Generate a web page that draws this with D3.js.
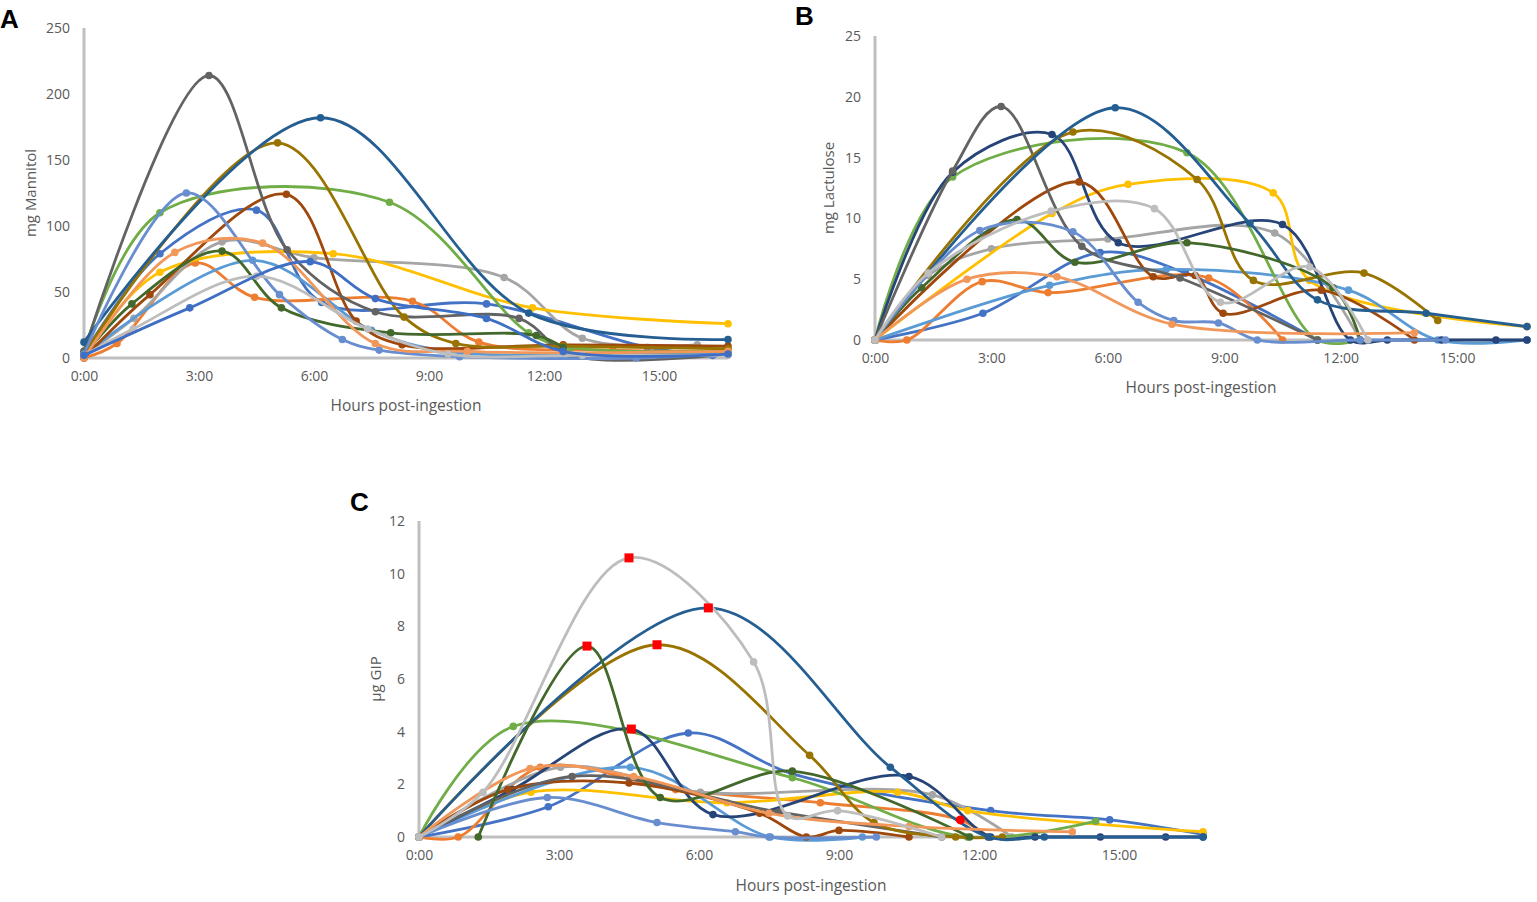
<!DOCTYPE html>
<html>
<head>
<meta charset="utf-8">
<script src="https://cdn.jsdelivr.net/npm/d3@7"></script>
<style>
  html, body { margin: 0; padding: 0; background: #fff; }
  svg { display: block; }
</style>
</head>
<body>
<svg id="chart" width="1537" height="902"></svg>
<script>
// hours post-ingestion, tick every 3 h, axis ends at 0.7 day
const xTicks = [0, 3, 6, 9, 12, 15];
const xMax = 16.8;
const mannitolTicks = [0, 50, 100, 150, 200, 250];
const lactuloseTicks = [0, 5, 10, 15, 20, 25];
const gipTicks = [0, 2, 4, 6, 8, 10, 12];

const subjects = ["S1","S2","S3","S4","S5","S6","S7","S8","S9","S10","S11","S12","S13","S14","S15","S16"];

// panel A: mg mannitol, [hour, value]
const mannitol = {
  S1:  [[0,3],[1.98,79],[4.5,112],[6.2,42],[10.5,41],[14.7,8],[16.4,2]],
  S2:  [[0,0],[0.86,11],[2.9,72],[4.45,46],[8.57,43],[10.3,12],[13.8,6],[16.8,5]],
  S3:  [[0,2],[1.3,30],[3.6,88],[6.0,76],[10.96,61],[13.0,15],[16.0,10]],
  S4:  [[0,2],[1.98,65],[6.5,79],[11.7,38],[16.8,26]],
  S5:  [[0,2],[4.4,74],[7.5,21],[9.5,5],[14.5,3],[16.4,3]],
  S6:  [[0,5],[1.98,110],[7.97,118],[11.6,19],[12.7,8],[16.8,5]],
  S8:  [[0,0],[1.72,48],[5.28,124],[7.1,28],[8.3,10],[12.5,10],[16.8,9]],
  S9:  [[0,5],[3.26,214],[5.3,82],[7.6,35],[11.35,30],[12.7,2],[16.8,3]],
  S10: [[0,3],[5.05,163],[8.35,31],[9.7,11],[12.5,9],[16.8,7]],
  S11: [[0,12],[6.17,182],[11.6,34],[16.8,14]],
  S12: [[0,2],[1.25,41],[3.6,81],[5.15,38],[8.0,19],[11.8,17],[12.5,8]],
  S13: [[0,3],[2.67,125],[5.1,48],[6.74,14],[7.7,6],[9.8,1],[14.4,0],[16.4,3]],
  S14: [[0,0],[2.37,80],[4.66,87],[7.6,11],[10,5],[16.8,5]],
  S15: [[0,2],[1.28,22],[4.5,62],[7.4,22],[9.5,3],[13,2],[16.8,2]],
  S16: [[0,2],[2.76,38],[5.9,73],[7.6,45],[10.5,30],[12.5,5],[16.8,3]]
};

// panel B: mg lactulose
const lactulose = {
  S1:  [[0,0],[2.78,2.2],[5.8,7.2],[8.0,5.5],[11.4,0]],
  S2:  [[0,0],[0.82,0],[2.76,4.8],[4.46,3.9],[8.6,5.1],[10.5,0]],
  S3:  [[0,0],[1.37,5.3],[3.0,7.5],[6.0,8.3],[10.3,8.8],[12.5,0]],
  S4:  [[0,0],[4.56,10.4],[6.52,12.8],[10.26,12.1],[11.2,4.9],[16.8,1.1]],
  S5:  [[0,0],[4.5,4.5],[7.5,5.8],[12.2,4.1],[14.5,0],[16.8,0]],
  S6:  [[0,0],[2.0,13.4],[8.04,15.4],[11.4,0],[12.5,0]],
  S7:  [[0,0],[2.0,13.8],[4.56,16.9],[6.27,8.0],[10.5,9.5],[12.25,0],[13.2,0],[14.6,0],[16.0,0],[16.8,0]],
  S8:  [[0,0],[5.26,13.0],[7.17,5.2],[8.25,5.3],[8.97,2.2],[11.5,4.1],[13.9,0]],
  S9:  [[0,0],[2.0,13.9],[3.25,19.2],[5.33,7.7],[7.86,5.1],[11.4,0]],
  S10: [[0,0],[5.1,17.1],[8.3,13.2],[9.75,4.9],[12.6,5.5],[14.5,1.6]],
  S11: [[0,0],[6.19,19.1],[9.66,9.6],[11.4,3.3],[14.2,2.2],[16.8,1.1]],
  S12: [[0,0],[1.2,4.3],[3.66,9.9],[5.15,6.4],[8.04,8.0],[11.8,4.3],[12.5,0]],
  S13: [[0,0],[2.7,9.0],[5.1,8.9],[6.78,3.1],[7.7,1.6],[8.85,1.4],[9.85,0],[12.5,0],[14.7,0]],
  S14: [[0,0],[2.37,5.0],[4.69,5.2],[7.65,1.3],[13.9,0.6]],
  S15: [[0,0],[1.37,5.5],[4.54,10.6],[7.2,10.8],[8.9,3.1],[11.2,6],[12.7,0]]
};

// panel C: µg GIP
const gip = {
  S1:  [[0,0],[2.77,1.15],[5.77,3.95],[8.0,2.4],[12.25,1.0],[14.8,0.65],[16.8,0.1]],
  S2:  [[0,0],[0.84,0],[2.6,2.65],[5.5,1.8],[8.6,1.3],[11.6,0.65],[12.2,0]],
  S3:  [[0,0],[3.03,2.65],[6.03,1.7],[11.0,1.6],[12.7,0]],
  S4:  [[0,0],[2.4,1.7],[6.6,1.3],[10.26,1.7],[11.76,1.0],[16.8,0.2]],
  S5:  [[0,0],[4.53,2.65],[7.53,0],[9.5,0]],
  S6:  [[0,0],[2.02,4.2],[8.0,2.25],[11.75,0],[14.5,0.6]],
  S7:  [[0,0],[2.0,1.8],[4.55,4.1],[6.3,0.85],[10.5,2.3],[12.25,0],[13.2,0],[14.6,0],[16.0,0],[16.8,0]],
  S8:  [[0,0],[1.9,1.8],[4.5,2.05],[7.3,0.9],[8.3,0],[9.0,0.25],[10.5,0]],
  S9:  [[0,0],[3.28,2.3],[7.7,0.95],[11.2,0]],
  S10: [[0,0],[5.1,7.3],[8.37,3.1],[9.75,0.55],[11.5,0],[12.5,0]],
  S11: [[0,0],[6.2,8.7],[10.1,2.65],[12.2,0],[13.4,0],[16.8,0]],
  S12: [[1.27,0],[3.6,7.25],[5.17,1.5],[8.0,2.5],[11.8,0]],
  S13: [[0,0],[2.75,1.5],[5.1,0.55],[6.78,0.2],[7.5,0],[9.8,0]],
  S14: [[0,0],[2.38,2.6],[4.6,2.3],[7.5,0.9],[10.5,0.4],[14.0,0.2]],
  S15: [[0,0],[1.37,1.7],[4.5,10.6],[7.17,6.65],[7.9,0.8],[8.97,1.0],[11.2,0]]
};
// highlighted points in panel C: [subject, point index, shape]
const gipHighlights = [["S15",2,"square"],["S11",1,"square"],["S10",1,"square"],
                       ["S12",1,"square"],["S7",2,"square"],["S2",5,"circle"]];

// Office palette, one colour per subject
const subjectColors = {
  S1:"#4472C4", S2:"#ED7D31", S3:"#A5A5A5", S4:"#FFC000", S5:"#5B9BD5",
  S6:"#70AD47", S7:"#264478", S8:"#9E480E", S9:"#636363", S10:"#997300",
  S11:"#255E91", S12:"#43682B", S13:"#698ED0", S14:"#F1975A", S15:"#BDBDBD",
  S16:"#3F6FC4"
};

const panels = [
  { letter:"A", data:mannitol, yTicks:mannitolTicks, yTitle:"mg Mannitol",
    x0:84, x1:728, y0:358, y1:28, letterX:0, letterY:28, yTitleX:36, xTitleY:411,
    highlights:[] },
  { letter:"B", data:lactulose, yTicks:lactuloseTicks, yTitle:"mg Lactulose",
    x0:875, x1:1527, y0:340, y1:36, letterX:795, letterY:25, yTitleX:834, xTitleY:393,
    highlights:[] },
  { letter:"C", data:gip, yTicks:gipTicks, yTitle:"µg GIP",
    x0:419, x1:1203, y0:837, y1:521, letterX:350, letterY:511, yTitleX:381, xTitleY:891,
    highlights:gipHighlights }
];

const svg = d3.select("#chart");
const font = "'Open Sans', 'Liberation Sans', sans-serif";
const axisColor = "#BFBFBF";
const textColor = "#595959";

function fmtHour(h) { return h + ":00"; }

panels.forEach(p => {
  const g = svg.append("g");
  const x = d3.scaleLinear().domain([0, xMax]).range([p.x0, p.x1]);
  const yMax = p.yTicks[p.yTicks.length - 1];
  const y = d3.scaleLinear().domain([0, yMax]).range([p.y0, p.y1]);

  // panel letter
  g.append("text")
    .attr("x", p.letterX).attr("y", p.letterY)
    .attr("font-family", "'Liberation Sans', Arial, sans-serif")
    .attr("font-weight", "bold").attr("font-size", 26)
    .attr("fill", "#000").text(p.letter);

  // y tick labels
  const yAxis = d3.axisLeft(y).tickValues(p.yTicks).tickSize(0).tickPadding(14);
  const ya = g.append("g").attr("transform", `translate(${p.x0},0)`).call(yAxis);
  ya.select(".domain").remove();
  ya.selectAll("text").attr("font-family", font).attr("font-size", 14).attr("fill", textColor);

  // x tick labels
  const xAxis = d3.axisBottom(x).tickValues(xTicks).tickFormat(fmtHour).tickSize(0).tickPadding(13);
  const xa = g.append("g").attr("transform", `translate(0,${p.y0})`).call(xAxis);
  xa.select(".domain").remove();
  xa.selectAll("text").attr("font-family", font).attr("font-size", 14).attr("fill", textColor);

  // axis lines
  g.append("line").attr("x1", p.x0).attr("x2", p.x0).attr("y1", p.y1).attr("y2", p.y0)
    .attr("stroke", axisColor).attr("stroke-width", 3);
  g.append("line").attr("x1", p.x0 - 1).attr("x2", p.x1).attr("y1", p.y0).attr("y2", p.y0)
    .attr("stroke", axisColor).attr("stroke-width", 3);

  // axis titles
  g.append("text")
    .attr("x", (p.x0 + p.x1) / 2).attr("y", p.xTitleY)
    .attr("text-anchor", "middle").attr("font-family", font).attr("font-size", 15.5)
    .attr("fill", textColor).text("Hours post-ingestion");
  g.append("text")
    .attr("transform", `translate(${p.yTitleX},${(p.y0 + p.y1) / 2}) rotate(-90)`)
    .attr("text-anchor", "middle").attr("font-family", font).attr("font-size", 15)
    .attr("fill", textColor).text(p.yTitle);

  const line = d3.line()
    .x(d => x(d[0])).y(d => y(d[1]))
    .curve(d3.curveCatmullRom.alpha(0.5));

  const series = subjects.filter(s => p.data[s]);
  series.forEach(s => {
    const pts = p.data[s];
    const col = subjectColors[s];
    g.append("path").datum(pts)
      .attr("fill", "none").attr("stroke", col).attr("stroke-width", 2.8)
      .attr("stroke-linejoin", "round").attr("d", line);
    g.selectAll(null).data(pts).join("circle")
      .attr("cx", d => x(d[0])).attr("cy", d => y(d[1])).attr("r", 3.8)
      .attr("fill", col);
  });

  // highlighted (red) points
  p.highlights.forEach(([s, i, shape]) => {
    const d = p.data[s][i];
    if (shape === "square") {
      g.append("rect").attr("x", x(d[0]) - 4.5).attr("y", y(d[1]) - 4.5)
        .attr("width", 9).attr("height", 9).attr("fill", "#FF0000");
    } else {
      g.append("circle").attr("cx", x(d[0])).attr("cy", y(d[1])).attr("r", 4.5)
        .attr("fill", "#FF0000");
    }
  });
});
</script>
</body>
</html>
